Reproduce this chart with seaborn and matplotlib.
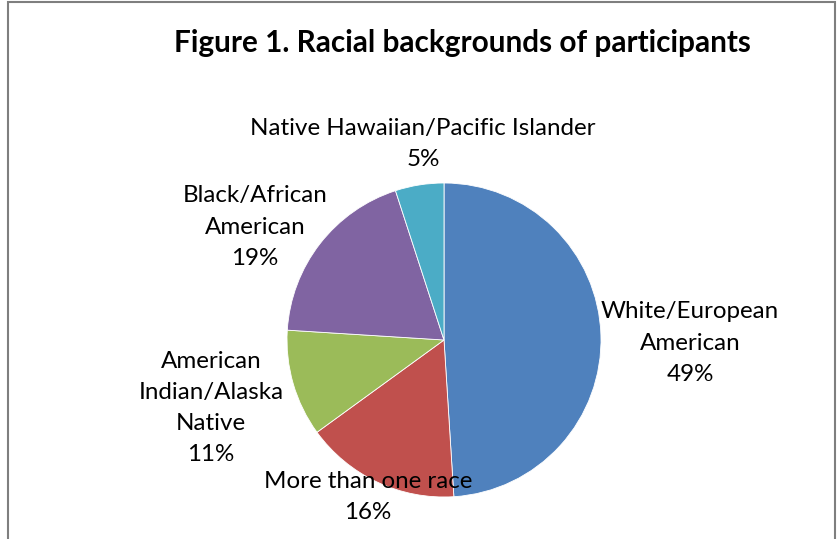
import matplotlib
matplotlib.use("Agg")
import matplotlib.pyplot as plt
import seaborn as sns

sns.set_theme(style="white")
plt.rcParams['font.family'] = ['Lato', 'DejaVu Sans']

categories = ["White/European\nAmerican", "More than one race", "American\nIndian/Alaska\nNative",
              "Black/African\nAmerican", "Native Hawaiian/Pacific Islander"]
values = [49, 16, 11, 19, 5]
pct_labels = ["49%", "16%", "11%", "19%", "5%"]
colors = ["#4F81BD", "#C0504D", "#9BBB59", "#8064A2", "#4BACC6"]

W, H = 839, 539
fig = plt.figure(figsize=(W / 100, H / 100), dpi=100)

# pie area in pixels
cx, cy, r = 444, 340, 157
ax = fig.add_axes([(cx - r) / W, 1 - (cy + r) / H, 2 * r / W, 2 * r / H])
ax.pie(values, colors=colors, startangle=90, counterclock=False, radius=1,
       wedgeprops=dict(edgecolor="white", linewidth=0.6))
ax.set_xlim(-1, 1)
ax.set_ylim(-1, 1)
ax.set_aspect("equal")
ax.axis("off")

# label centres (pixel positions in the figure)
label_pos = [(690, 343), (368, 497), (211, 408), (255, 227), (423, 144)]
for cat, pct, (px, py) in zip(categories, pct_labels, label_pos):
    fig.text(px / W, 1 - py / H, cat + "\n" + pct, ha="center", va="center",
             fontsize=17.4, color="black", linespacing=1.6)

fig.text(462 / W, 1 - 43 / H, "Figure 1. Racial backgrounds of participants",
         ha="center", va="center", fontsize=21.4, fontweight="bold", color="black")

# frame
from matplotlib.patches import Rectangle
fig.patches.append(Rectangle((8 / W, -0.05), (835 - 8) / W, 1 - 2 / H + 0.05,
                             transform=fig.transFigure, fill=False,
                             edgecolor="#7F7F7F", linewidth=1.5))

fig.savefig("out.png", dpi=100)
